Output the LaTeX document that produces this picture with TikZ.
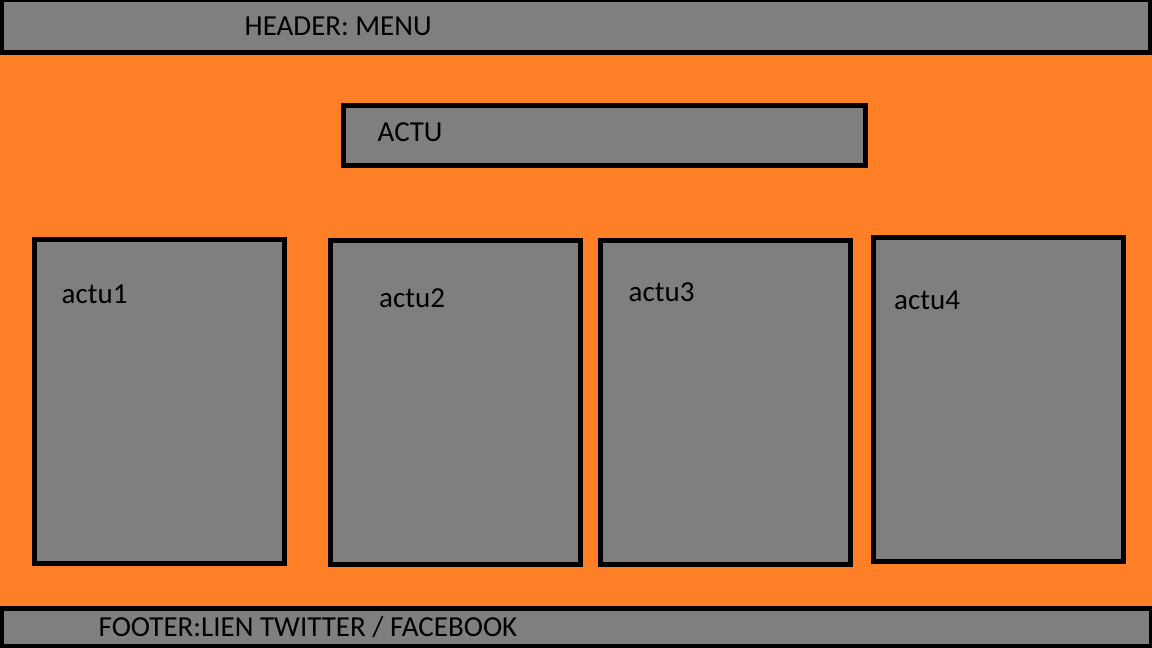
\documentclass[tikz,border=0pt]{standalone}
\usepackage{fontspec}
\setmainfont{Carlito}
\definecolor{pageorange}{RGB}{255,127,39}
\definecolor{boxgray}{RGB}{127,127,127}

\begin{document}
\begin{tikzpicture}[x=1pt, y=-1pt,
    box/.style={draw=black, fill=boxgray, line width=5pt},
    bar/.style={draw=black, fill=boxgray, line width=4.5pt},
    label/.style={anchor=base west, inner sep=0pt, font=\fontsize{29}{31}\selectfont}]

       \useasboundingbox (0, 0) rectangle (1152, 648);
       \fill[pageorange] (0, 0) rectangle (1152, 648);

       \draw[bar] (2, 0) rectangle (1150, 52.5);
       \draw[bar] (1.5, 608.5) rectangle (1151.5, 646.5);

       \draw[box] (343.7, 105.8) rectangle (865.3, 165.2);
       \draw[box] (34.3, 239.3) rectangle (284.5, 563.2);
       \draw[box] (330.5, 240.5) rectangle (580, 564);
       \draw[box] (600.8, 240.8) rectangle (850, 564.3);
       \draw[box] (873.5, 237.5) rectangle (1123.5, 561.5);

       \node[label] (header) at (244.5, 35) {HEADER: MENU};
       \node[label] (actu) at (377.5, 141) {ACTU};
       \node[label] (actu1) at (61.5, 303.3) {actu1};
       \node[label] (actu2) at (379, 307.7) {actu2};
       \node[label] (actu3) at (628.5, 301.7) {actu3};
       \node[label] (actu4) at (894, 309) {actu4};
       \node[label] (footer) at (98.5, 636.7) {FOOTER:LIEN TWITTER / FACEBOOK};
     \end{tikzpicture}
\end{document}
